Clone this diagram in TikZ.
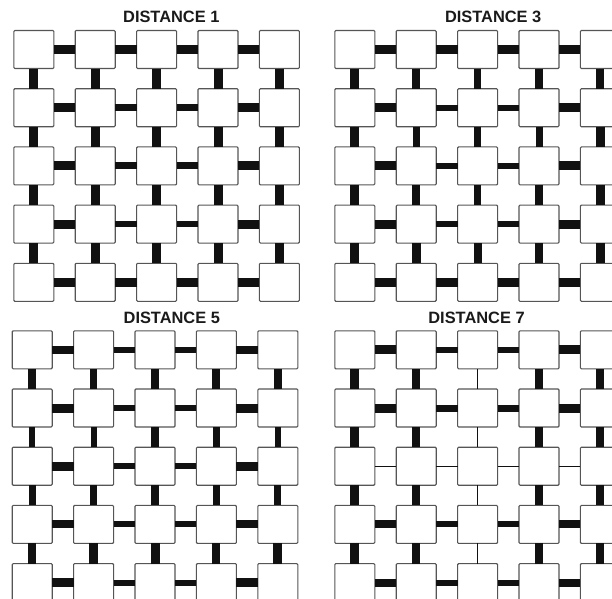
\documentclass[tikz,border=0pt]{standalone}
\usepackage{fontspec}
\setmainfont{Liberation Sans}
\usepackage{tikz}
\usetikzlibrary{positioning}
\definecolor{cA}{HTML}{111111}
\definecolor{cB}{HTML}{555555}
\definecolor{cC}{HTML}{1a1a1a}
\tikzset{
  cell/.style={rectangle,draw=cB,fill=white,line width=1.1pt,rounded corners=1pt,
    minimum width=40pt,minimum height=38pt,inner sep=0pt,outer sep=0pt},
  link/.style={draw=cA,line cap=butt},
  title/.style={font=\fontsize{16.4}{18}\selectfont\bfseries,text=cC,inner sep=0pt},
}
% #1 name, #2 centre of first cell, #3 row links (5x4), #4 column links (4x5)
\newcommand{\lattice}[4]{%
  \begin{scope}[shift={#2}]
    \foreach \row in {1,...,5}
      \foreach \col in {1,...,5}
        \node[cell] (#1-\row-\col) at ({(\col-1)*61.4},{(\row-1)*58.2}) {};
    \foreach \w [count=\i from 0] in {#3} {
      \pgfmathtruncatemacro{\row}{\i/4+1}
      \pgfmathtruncatemacro{\col}{mod(\i,4)+1}
      \pgfmathtruncatemacro{\nxt}{\col+1}
      \draw[link,line width=\w pt] (#1-\row-\col.east) -- (#1-\row-\nxt.west);
    }
    \foreach \w [count=\i from 0] in {#4} {
      \pgfmathtruncatemacro{\row}{\i/5+1}
      \pgfmathtruncatemacro{\col}{mod(\i,5)+1}
      \pgfmathtruncatemacro{\nxt}{\row+1}
      \draw[link,line width=\w pt] (#1-\row-\col.south) -- (#1-\nxt-\col.north);
    }
  \end{scope}}

\begin{document}
\begin{tikzpicture}[x=1pt,y=-1pt]
\useasboundingbox (0,0) rectangle (612,598);
\clip (0,0) rectangle (612,598);

\node[title] (t1) at (171.3,17.2) {DISTANCE 1};
\node[title] (t3) at (493.2,17.2) {DISTANCE 3};
\node[title] (t5) at (171.8,318) {DISTANCE 5};
\node[title] (t7) at (476.5,318) {DISTANCE 7};

\lattice{da}{(33.8,49.5)}
  {9,9,9,9, 9,7,7,9, 9,7,7,9, 9,6.7,6.7,9, 9,9,9,9}
  {9,9,9,9,9, 9,9,9,9,9, 9,9,9,9,9, 9,9,9,9,9}
\lattice{db}{(354.8,49.5)}
  {9,9,9,9, 9,6,6,9, 9,6,6,9, 9,6.7,6.7,9, 9,9,9,9}
  {9,8,7,8,8, 9,7,7,7,9, 9,8,7,8,9, 9,9,8,8,9}
\lattice{dc}{(32.2,349.8)}
  {8,6,6,8, 9,6,6,9, 9,6,6,9, 8,6,6,8, 9,6,6,9}
  {8,7,8,8,8, 6,6,8,7,6, 7,7,8,7,7, 8,9,9,8,9}
\lattice{dd}{(354.8,349.8)}
  {9,6,6,9, 9,7,7,9, 1,1,1,1, 8,6,6,8, 8,6,6,8}
  {9,8,1,8,8, 9,8,1,8,8, 9,8,1,8,8, 9,8,1,8,8}
\end{tikzpicture}
\end{document}
